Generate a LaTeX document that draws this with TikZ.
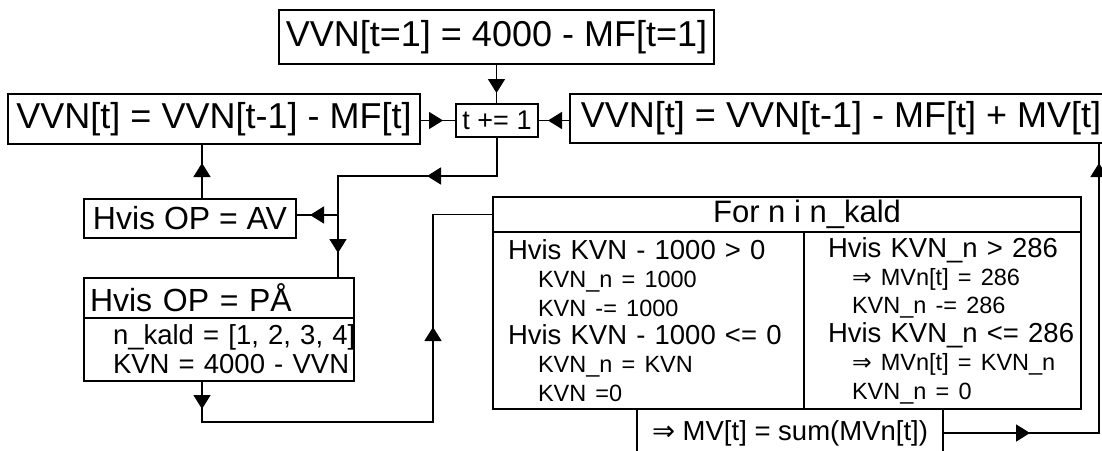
\documentclass[tikz,border=0pt]{standalone}
\usepackage{fontspec}
\setmainfont{Liberation Sans}
\newfontfamily\arrfont{DejaVu Sans}
\usepackage{tikz}
\usetikzlibrary{
    arrows.meta,
    decorations.markings,
    positioning
}
\tikzset{
    % Base style for all boxes
    flow base/.style={
        rectangle,
        draw=black,
        line width=1.6pt,
        inner sep=0pt,
        outer sep=0pt,
        anchor=north west,
    },
    % Boxes with the big equations
    big box/.style={
        flow base,
        font=\fontsize{36}{40}\selectfont,
    },
    % Boxes with a heading
    mid box/.style={
        flow base,
        font=\fontsize{32}{36}\selectfont,
    },
    % Boxes with several lines of text
    body box/.style={
        flow base,
        font=\fontsize{27.5}{28.4}\selectfont,
        align=left,
    },
    % Connector lines
    link/.style={
        line width=1.6pt,
    },
    % Arrowhead somewhere along a connector
    head at/.style={
        postaction={decorate, decoration={markings,
            mark=at position #1 with {\arrow{Triangle[length=14pt, width=17pt]}}}},
    },
}
\newcommand{\sm}{\fontsize{23.5}{28.4}\selectfont}

\begin{document}
\begin{tikzpicture}[x=1pt, y=-1pt]
    \useasboundingbox (0,0) rectangle (1102,450);
    \clip (0,0) rectangle (1102,450);
    \fill [white] (0,0) rectangle (1102,450);

    \node (init_vvn) [big box, minimum width=435pt, minimum height=54pt] at (279,10) {VVN[t=1] = 4000 - MF[t=1]};
    \node (calc_vvn) [big box, minimum width=412pt, minimum height=50pt] at (8,94) {VVN[t] = VVN[t-1] - MF[t]};
    \node (tick) [flow base, font=\fontsize{27}{30}\selectfont, minimum width=82pt, minimum height=33pt] at (456,104) {t += 1};
    \node (calc_vvn_mv) [big box, minimum width=542pt, minimum height=49pt] at (570,94) {VVN[t] = VVN[t-1] - MF[t] + MV[t]};
    \node (if_av) [mid box, minimum width=212pt, minimum height=39pt] at (84,199) {Hvis OP = AV};
    \node (if_pa_head) [mid box, minimum height=40pt, text width=258pt, inner xsep=6pt, align=left] at (84,278) {Hvis OP = PÅ};
    \node (if_pa_body) [body box, below=0pt of if_pa_head, minimum height=63pt, text width=212pt, inner xsep=29pt, font=\fontsize{27.5}{29}\selectfont]
        {\mbox{n\_kald = [1, 2, 3, 4]}\\ \mbox{KVN = 4000 - VVN}};

    \node (for_head) [flow base, font=\fontsize{31}{34}\selectfont, minimum width=588pt, minimum height=35pt] at (493,197) {\hspace*{40pt}For n i n\_kald};
    \node (for_left) [body box, minimum height=177pt, text width=281pt, inner xsep=15pt] at (for_head.south west)
        {\mbox{Hvis KVN - 1000 > 0}\\
         \hspace*{30pt}{\sm KVN\_n = 1000}\\
         \hspace*{30pt}{\sm KVN -= 1000}\\
         \mbox{Hvis KVN - 1000 <= 0}\\
         \hspace*{30pt}{\sm KVN\_n = KVN}\\
         \hspace*{30pt}{\sm KVN =0}};
    \node (for_right) [body box, minimum height=177pt, text width=229pt, inner xsep=24pt] at (for_left.north east)
        {\mbox{Hvis KVN\_n > 286}\\
         \hspace*{24pt}\mbox{\sm {\arrfont ⇒} MVn[t] = 286}\\
         \hspace*{24pt}\mbox{\sm KVN\_n -= 286}\\
         \mbox{Hvis KVN\_n <= 286}\\
         \hspace*{24pt}\mbox{\sm {\arrfont ⇒} MVn[t] = KVN\_n}\\
         \hspace*{24pt}\mbox{\sm KVN\_n = 0}};
    \node (sum_mv) [flow base, font=\fontsize{27.5}{30}\selectfont, minimum width=306pt, minimum height=48pt] at (637,409) {{\arrfont ⇒} MV[t] = sum(MVn[t])};

    \coordinate (split) at (338,176);
    \coordinate (fork) at (338,215);
    \coordinate (back_low) at (202,422);
    \coordinate (back_turn) at (433,422);
    \coordinate (mv_turn) at (1099,433);

    \draw [link, head at=29pt] (init_vvn.south) -- (init_vvn.south |- tick.north);
    \draw [link, head at=23pt] (tick.west -| calc_vvn.east) -- (tick.west);
    \draw [link, head at=22pt] (tick.east -| calc_vvn_mv.west) -- (tick.east);
    \draw [link, head at=109pt, head at=275pt] (tick.south) |- (split) -- (split |- if_pa_head.north);
    \draw [link, head at=28pt] (fork) -- (fork -| if_av.east);
    \draw [link, head at=36pt] (if_av.north -| back_low) -- (calc_vvn.south -| back_low);
    \draw [link, head at=28pt, head at=367pt] (if_pa_body.south -| back_low) -- (back_low) -- (back_turn) -- (back_turn |- for_head.west) -- (for_head.west);
    \draw [link, head at=87pt, head at=426pt] (sum_mv.east) -- (mv_turn) -- (mv_turn |- calc_vvn_mv.south);
\end{tikzpicture}
\end{document}
